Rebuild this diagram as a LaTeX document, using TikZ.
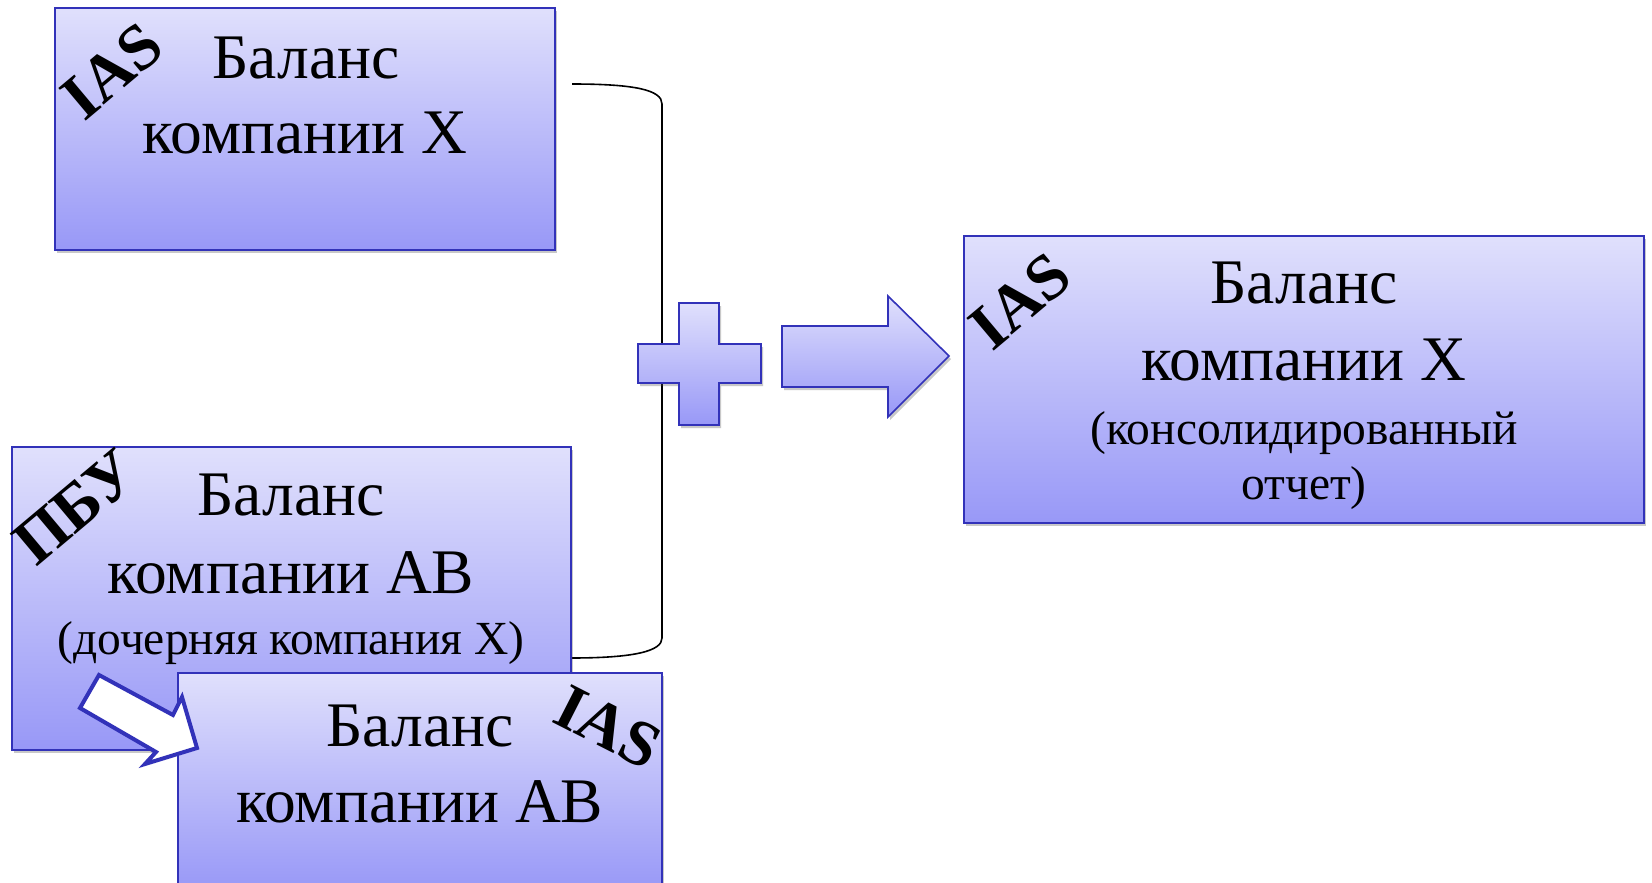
\documentclass[tikz,border=0pt]{standalone}
\usepackage{fontspec}
\setmainfont{Liberation Serif}
\usetikzlibrary{shadows}
\definecolor{boxtop}{RGB}{224,224,252}
\definecolor{boxbot}{RGB}{152,152,247}
\definecolor{boxline}{RGB}{50,50,185}

\begin{document}
\begin{tikzpicture}[x=1pt,y=-1pt,
  panel/.style={draw=boxline, line width=1.6pt, top color=boxtop, bottom color=boxbot,
    drop shadow={shadow xshift=2pt, shadow yshift=-3pt, opacity=0.3, fill=black!70}},
  card/.style={panel, anchor=north west, inner sep=0pt, outer sep=0pt},
  big/.style={font=\fontsize{63.5}{70}\selectfont, anchor=base, inner sep=0pt},
  small/.style={font=\fontsize{47.5}{52}\selectfont, anchor=base, inner sep=0pt},
  tag/.style={font=\fontsize{65}{70}\selectfont\bfseries, inner sep=0pt},
]
\fill[white] (0,0) rectangle (1652,883);
\useasboundingbox (0,0) rectangle (1652,883);

% parent company balance
\node[card, minimum width=500pt, minimum height=242pt] (b1) at (55,8) {};
\node[big] (b1a) at (306,78) {Баланс};
\node[big] (b1b) at (305,153) {компании X};
\node[tag, rotate=40] (t1) at (112,71) {IAS};

% bracket joining both balances
\coordinate (brtop) at (572,84);
\coordinate (brbot) at (571,658);
\draw[line width=1.6pt] (brtop) .. controls (635,84) and (662,90) .. (662,104)
  -- (662,638) .. controls (662,651) and (635,658) .. (brbot);

% subsidiary balance (local standards)
\node[card, minimum width=559pt, minimum height=303pt] (b2) at (12,447) {};
\node[big] (b2a) at (291,515) {Баланс};
\node[big] (b2b) at (291,593) {компании AB};
\node[small] (b2c) at (291,654) {(дочерняя компания X)};
\node[tag, rotate=40] (t2) at (76,507) {ПБУ};

% subsidiary balance restated
\node[card, minimum width=484pt, minimum height=217pt] (b4) at (178,673) {};
\node[big] (b4a) at (420,746) {Баланс};
\node[big] (b4b) at (420,822) {компании AB};
\node[tag, rotate=-27] (t4) at (608,727) {IAS};

% restatement arrow
\draw[draw=boxline, line width=4pt, fill=white, line join=miter]
  (99,675) -- (173,715) -- (182,697) -- (197,748) -- (145,764) -- (156,752) -- (80,708) -- cycle;

% plus sign
\draw[panel] (638,344) -- (679,344) -- (679,303) -- (719,303) -- (719,344) -- (761,344)
  -- (761,383) -- (719,383) -- (719,425) -- (679,425) -- (679,383) -- (638,383) -- cycle;

% block arrow
\draw[panel] (782,326) -- (888,326) -- (888,296) -- (949,356) -- (888,417) -- (888,387)
  -- (782,387) -- cycle;

% consolidated balance
\node[card, minimum width=680pt, minimum height=287pt] (b3) at (964,236) {};
\node[big] (b3a) at (1304,303) {Баланс};
\node[big] (b3b) at (1304,380) {компании X};
\node[small] (b3c) at (1304,444) {(консолидированный};
\node[small] (b3d) at (1304,499) {отчет)};
\node[tag, rotate=40] (t3) at (1020,301) {IAS};
\end{tikzpicture}
\end{document}
